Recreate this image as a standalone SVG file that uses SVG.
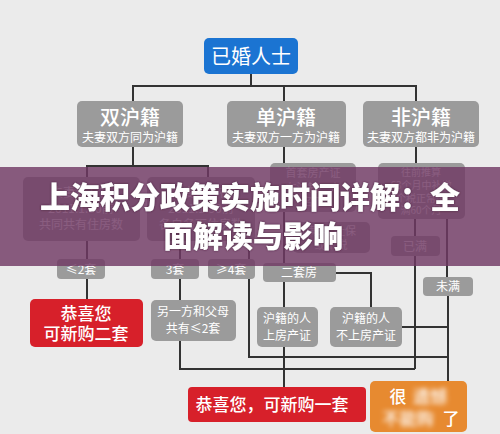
<svg xmlns="http://www.w3.org/2000/svg" width="500" height="434" viewBox="0 0 500 434">
<defs>
<style>
.bg{fill:#ebebeb}
.g{fill:#9b9b9b}
.red{fill:#d7202a}
.txt{font-family:"Noto Sans CJK SC","Noto Sans",sans-serif;fill:#ffffff;text-anchor:middle}
.t20{font-size:20px}
.t21{font-size:20px;font-weight:500}
.t12{font-size:12px}
.t11{font-size:11px}
.t10{font-size:10px}
.t17{font-size:17px;font-weight:500}
.conn{stroke:#333333;stroke-width:2;fill:none}
.ttl{font-family:"Noto Sans CJK SC","Noto Sans",sans-serif;font-size:30px;font-weight:900;fill:#ffffff;text-anchor:middle}
</style>
<filter id="blur" x="-20%" y="-40%" width="140%" height="180%"><feGaussianBlur stdDeviation="2.5"/></filter>
<filter id="sh" x="-5%" y="-20%" width="110%" height="140%"><feDropShadow dx="0" dy="0" stdDeviation="1.2" flood-color="#3a1a33" flood-opacity="0.8"/></filter>
</defs>
<rect class="bg" x="0" y="0" width="500" height="434"/>

<g id="connectors">
<path class="conn" d="M251 74V86M133 101V86H416V101M284 86V101"/>
<path class="conn" d="M133 147V166M87 177V166H208V177"/>
<path class="conn" d="M87 241V259M87 279V299"/>
<path class="conn" d="M180 241V259M180 279V300M180 341V369H415"/>
<path class="conn" d="M249 241V259M249 279V357H448"/>
<path class="conn" d="M284 147V163M284 212V263M284 282V307M284 347V387"/>
<path class="conn" d="M336 273H371V307M402 327H448"/>
<path class="conn" d="M416 147V163M415 219V236M415 256V369M447 219V277M448 296V382"/>
</g>

<g id="n-married"><rect x="204" y="38" width="94" height="36" rx="5" fill="#1b74d2"/><text class="txt t20" x="251" y="64">已婚人士</text></g>

<g id="n-double"><rect class="g" x="77" y="101" width="106" height="46" rx="5"/><text class="txt t21" x="130" y="125">双沪籍</text><text class="txt t12" x="130" y="142">夫妻双方同为沪籍</text></g>
<g id="n-single"><rect class="g" x="227" y="101" width="119" height="46" rx="5"/><text class="txt t21" x="286" y="125">单沪籍</text><text class="txt t12" x="286" y="142">夫妻双方一方为沪籍</text></g>
<g id="n-none"><rect class="g" x="363" y="101" width="116" height="46" rx="5"/><text class="txt t21" x="421" y="125">非沪籍</text><text class="txt t12" x="421" y="142">夫妻双方都非为沪籍</text></g>

<g id="n-joint"><rect class="g" x="23" y="177" width="117" height="64" rx="5"/><text class="txt t12" x="81" y="197">夫妻双方在</text><text class="txt t12" x="81" y="213">2011.1.30前</text><text class="txt t12" x="81" y="229">共同共有住房数</text></g>
<g id="n-sep"><rect class="g" x="147" y="177" width="108" height="64" rx="5"/><text class="txt t12" x="201" y="197">夫妻双方在</text><text class="txt t12" x="201" y="213">2011.1.30前</text><text class="txt t12" x="201" y="229">各自名下住房数</text></g>
<g id="n-first"><rect class="g" x="270" y="163" width="86" height="49" rx="5"/><text class="txt t11" x="313" y="177">首套房产证</text><text class="txt t11" x="313" y="192">在沪籍一方</text><text class="txt t11" x="313" y="206">名下</text></g>
<g id="n-social"><rect class="g" x="293" y="222" width="77" height="31" rx="5"/><text class="txt t11" x="331" y="235">满5年社保</text><text class="txt t11" x="331" y="249">或个税</text></g>
<g id="n-count"><rect class="g" x="378" y="163" width="87" height="56" rx="5"/><text class="txt t10" x="421" y="176">往前推算</text><text class="txt t10" x="421" y="189">63个月中补缴</text><text class="txt t10" x="421" y="202">个税正常缴</text><text class="txt t10" x="421" y="214">满60个月</text></g>
<g id="n-full"><rect class="g" x="391" y="236" width="49" height="20" rx="4"/><text class="txt t12" x="415" y="251">已满</text></g>

<g id="n-le2"><rect class="g" x="57" y="259" width="48" height="20" rx="4"/><text class="txt t12" x="81" y="274">≤2套</text></g>
<g id="n-3"><rect class="g" x="151" y="259" width="48" height="20" rx="4"/><text class="txt t12" x="175" y="274">3套</text></g>
<g id="n-ge4"><rect class="g" x="208" y="259" width="47" height="20" rx="4"/><text class="txt t12" x="231" y="274">≥4套</text></g>
<g id="n-second"><rect class="g" x="263" y="263" width="73" height="19" rx="4"/><text class="txt t12" x="299" y="277">二套房</text></g>
<g id="n-notfull"><rect class="g" x="423" y="277" width="50" height="19" rx="4"/><text class="txt t12" x="448" y="291">未满</text></g>

<g id="n-buy2"><rect class="red" x="30" y="299" width="113" height="48" rx="5"/><text class="txt t17" x="86" y="320">恭喜您</text><text class="txt t17" x="86" y="340">可新购二套</text></g>
<g id="n-other"><rect class="g" x="151" y="300" width="85" height="41" rx="5"/><text class="txt t12" x="193" y="316">另一方和父母</text><text class="txt t12" x="193" y="333">共有≤2套</text></g>
<g id="n-on"><rect class="g" x="257" y="307" width="61" height="40" rx="5"/><text class="txt t12" x="287" y="323">沪籍的人</text><text class="txt t12" x="287" y="340">上房产证</text></g>
<g id="n-off"><rect class="g" x="330" y="307" width="72" height="40" rx="5"/><text class="txt t12" x="366" y="323">沪籍的人</text><text class="txt t12" x="366" y="340">不上房产证</text></g>

<g id="n-buy1"><rect class="red" x="188" y="387" width="178" height="35" rx="4"/><text class="txt t17" x="272" y="411">恭喜您，可新购一套</text></g>
<g id="n-sorry"><rect x="370" y="381" width="97" height="51" rx="5" fill="#e78a30"/><text class="txt t17" x="398" y="403">很</text><text class="txt t17" x="430" y="403" filter="url(#blur)">遗憾</text><text class="txt t17" x="408" y="425" filter="url(#blur)">不能购</text><text class="txt t17" x="451" y="425">了</text></g>

<g id="banner">
<rect x="0" y="167" width="500" height="99" fill="#703964" fill-opacity="0.82"/>
<text class="ttl" x="250" y="208" filter="url(#sh)">上海积分政策实施时间详解：全</text>
<text class="ttl" x="253" y="247" filter="url(#sh)">面解读与影响</text>
</g>
</svg>
